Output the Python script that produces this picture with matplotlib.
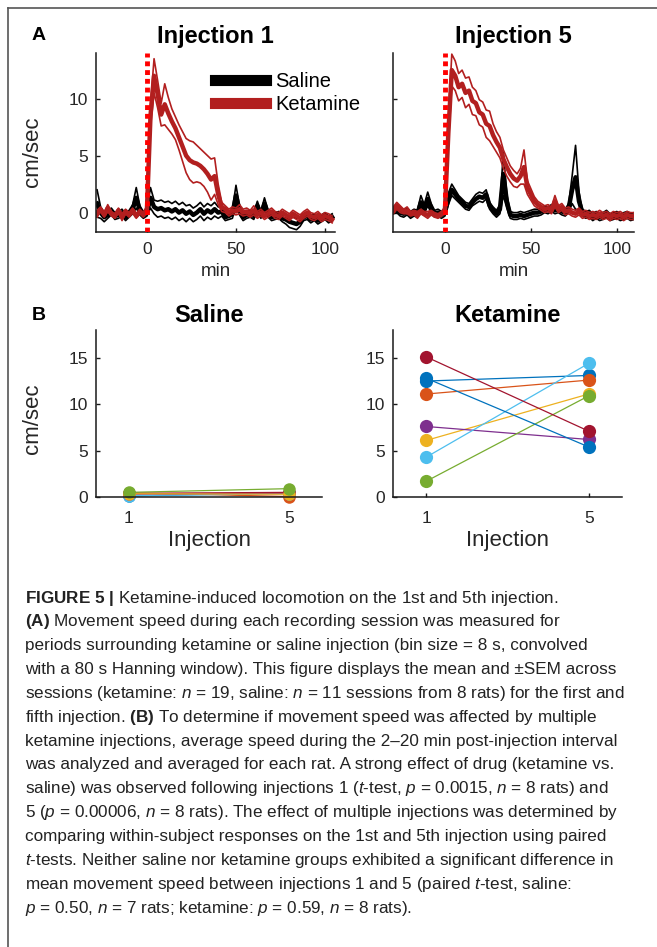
import numpy as np
import matplotlib
matplotlib.use("Agg")
import matplotlib.pyplot as plt
from matplotlib.lines import Line2D

plt.rcParams['font.family'] = ['Liberation Sans', 'DejaVu Sans']
plt.rcParams['mathtext.fontset'] = 'custom'
plt.rcParams['mathtext.rm'] = 'Liberation Sans'
plt.rcParams['mathtext.it'] = 'Liberation Sans:italic'
plt.rcParams['mathtext.bf'] = 'Liberation Sans:bold'

# ---- panel A: speed traces (mean and SEM), 2 min steps ----
t1 = np.arange(-28, 106, 2)   # injection 1
t5 = np.arange(-30, 112, 2)   # injection 5

sal1_mean = [0.8, 0.0, -0.4, -0.2, 0.1, -0.3, -0.2, 0.0, -0.4, -0.1, 0.3, 1.3, 0.2, -0.2,
             0.0, 1.3, 0.5, 0.3, 0.4, 0.2, 0.3, 0.1, 0.3, 0.0, 0.2, -0.1, 0.1, -0.2, 0.0,
             0.3, -0.1, 0.2, 0.0, 0.3, 0.0, 0.1, -0.4, -0.3, -0.1, 1.5, 0.2, -0.4, -0.2,
             -0.1, -0.3, 0.6, -0.2, 0.8, -0.1, -0.4, -0.3, -0.2, -0.5, -0.6, -0.8, -0.9,
             -1.0, -0.8, -0.4, -0.3, -0.6, -0.4, -0.7, -0.5, -0.3, -0.6, -0.4]
sal1_sem = [1.2, 0.5, 0.4, 0.3, 0.3, 0.3, 0.3, 0.3, 0.3, 0.3, 0.4, 0.9, 0.4, 0.3,
            0.3, 0.9, 0.6, 0.7, 0.7, 0.7, 0.7, 0.7, 0.7, 0.7, 0.7, 0.7, 0.6, 0.6, 0.6,
            0.6, 0.6, 0.6, 0.6, 0.6, 0.5, 0.4, 0.3, 0.3, 0.4, 0.9, 0.4, 0.3, 0.3,
            0.3, 0.3, 0.4, 0.3, 0.5, 0.3, 0.3, 0.3, 0.3, 0.3, 0.4, 0.5, 0.5,
            0.5, 0.4, 0.3, 0.3, 0.3, 0.3, 0.3, 0.3, 0.3, 0.3, 0.3]
ket1_mean = [-0.1, 0.3, -0.2, 0.4, -0.1, -0.3, 0.2, -0.4, 0.1, -0.2, 0.2, -0.3, 0.1, -0.2,
             0.3, 8.5, 12.0, 10.4, 8.6, 9.5, 8.7, 8.0, 7.4, 6.6, 5.8, 5.0, 4.6, 4.4, 4.3,
             4.1, 3.8, 3.4, 2.9, 3.2, 1.6, 0.5, 0.3, 0.0, 0.2, 0.1, 0.3, 0.0, 0.1,
             -0.1, 0.2, -0.2, 0.0, -0.3, -0.1, 0.1, -0.2, -0.3, 0.0, -0.2, -0.4, -0.1,
             -0.3, -0.5, -0.2, 0.0, -0.3, -0.4, -0.2, -0.5, -0.3, -0.4, -0.6]
ket1_sem = [0.3, 0.2, 0.2, 0.3, 0.2, 0.2, 0.2, 0.3, 0.2, 0.2, 0.2, 0.2, 0.2, 0.2,
            0.3, 1.0, 1.5, 1.2, 1.0, 1.8, 1.4, 1.1, 1.0, 1.1, 1.3, 1.5, 1.7, 1.8, 1.6,
            1.5, 1.5, 1.6, 1.8, 1.6, 0.9, 0.4, 0.3, 0.3, 0.3, 0.3, 0.4, 0.3, 0.3,
            0.3, 0.4, 0.3, 0.3, 0.3, 0.3, 0.3, 0.3, 0.3, 0.3, 0.3, 0.3, 0.3,
            0.3, 0.3, 0.3, 0.3, 0.3, 0.3, 0.3, 0.3, 0.3, 0.3, 0.3]

sal5_mean = [0.2, 0.3, 0.0, -0.1, 0.1, -0.2, 0.0, -0.1, 0.9, 0.3, 1.2, 0.4, -0.1, 0.0, -0.2,
             0.0, 1.2, 2.0, 1.6, 1.2, 0.9, 0.6, 0.5, 0.9, 1.2, 1.4, 1.3, 1.6, 0.6, 0.2,
             -0.1, 0.3, 3.4, 1.0, -0.2, -0.3, -0.3, -0.2, -0.3, -0.2, -0.1, 0.0, 0.0,
             0.1, 0.3, 0.2, 0.4, 0.2, 0.3, 0.1, 0.0, 0.4, 2.0, 3.1, 1.0, 0.0, -0.2,
             -0.1, -0.4, -0.2, -0.4, -0.3, -0.1, -0.4, -0.3, -0.2, -0.4, -0.3, -0.2, -0.4, -0.3]
sal5_sem = [0.3, 0.3, 0.3, 0.3, 0.3, 0.3, 0.3, 0.3, 0.6, 0.4, 0.6, 0.4, 0.3, 0.3, 0.3,
            0.3, 0.5, 0.5, 0.4, 0.3, 0.3, 0.3, 0.3, 0.3, 0.4, 0.4, 0.4, 0.4, 0.3, 0.3,
            0.3, 0.4, 1.9, 0.6, 0.3, 0.3, 0.3, 0.3, 0.3, 0.3, 0.3, 0.3, 0.3,
            0.3, 0.3, 0.3, 0.3, 0.3, 0.3, 0.3, 0.3, 0.4, 1.2, 2.8, 0.8, 0.3, 0.3,
            0.3, 0.3, 0.3, 0.3, 0.3, 0.3, 0.3, 0.3, 0.3, 0.3, 0.3, 0.3, 0.3, 0.3]
ket5_mean = [0.2, 0.6, 0.3, 0.1, 0.2, -0.1, 0.0, -0.2, 0.1, -0.1, -0.2, 0.0, -0.2, -0.3, -0.1,
             0.2, 7.0, 12.5, 12.0, 11.0, 11.3, 10.5, 10.7, 9.8, 9.6, 8.8, 8.6, 7.8, 7.6, 6.8,
             6.2, 5.7, 4.7, 4.0, 3.4, 3.0, 2.8, 3.2, 4.0, 2.2, 1.6, 1.0, 0.7,
             0.5, 0.3, 0.4, 0.2, 1.0, 0.3, 0.5, 0.1, 0.2, 0.0, -0.1, 0.1, -0.2,
             -0.1, -0.3, -0.2, -0.3, -0.1, -0.3, -0.2, -0.4, -0.2, -0.3, -0.2, -0.4, -0.2, -0.3, -0.3]
ket5_sem = [0.3, 0.3, 0.3, 0.2, 0.3, 0.2, 0.2, 0.3, 0.2, 0.2, 0.3, 0.2, 0.2, 0.2, 0.2,
            0.3, 1.0, 1.4, 1.3, 1.2, 1.2, 1.3, 1.2, 1.2, 1.1, 1.1, 1.1, 1.2, 1.3, 1.0,
            0.9, 0.9, 0.8, 0.8, 0.7, 0.7, 0.6, 0.7, 1.5, 0.6, 0.5, 0.4, 0.3,
            0.3, 0.3, 0.3, 0.3, 0.5, 0.3, 0.3, 0.3, 0.3, 0.3, 0.3, 0.3, 0.3,
            0.3, 0.3, 0.3, 0.3, 0.3, 0.3, 0.3, 0.3, 0.3, 0.3, 0.3, 0.3, 0.3, 0.3, 0.3]

# ---- panel B: mean speed per rat, injections 1 and 5 ----
inj = [1, 5]
rat_colors = ['#0072BD', '#D95319', '#EDB120', '#7E2F8E', '#77AC30', '#4DBEEE', '#A2142F', '#0072BD']
sal_inj1 = [0.1, 0.45, 0.15, 0.3, 0.4, 0.35, 0.5]
sal_inj5 = [0.45, 0.05, 0.35, 0.4, 0.5, 0.3, 0.9]
sal_colors = ['#0072BD', '#D95319', '#4DBEEE', '#7E2F8E', '#A2142F', '#EDB120', '#77AC30']
ket_inj1 = [12.5, 11.1, 6.1, 7.6, 1.7, 4.3, 15.1, 12.8]
ket_inj5 = [13.1, 12.6, 11.1, 6.2, 10.9, 14.4, 7.1, 5.4]

W, H = 657, 947
fig = plt.figure(figsize=(W / 100, H / 100), dpi=100)


def px_axes(l, t, r, b):
    return fig.add_axes([l / W, 1 - b / H, (r - l) / W, (b - t) / H])


def style(ax):
    for s in ['top', 'right']:
        ax.spines[s].set_visible(False)
    for s in ['left', 'bottom']:
        ax.spines[s].set_linewidth(1.1)
        ax.spines[s].set_color('#1a1a1a')
    ax.tick_params(direction='in', length=3, width=1, colors='#1a1a1a',
                   labelsize=12.5, labelcolor='#262626')


red = '#b21f1f'
axA1 = px_axes(96, 53, 335, 232)
axA5 = px_axes(393, 53, 634, 232)
panels = [(axA1, t1, sal1_mean, sal1_sem, ket1_mean, ket1_sem, 'Injection 1', (-28.6, 105.6)),
          (axA5, t5, sal5_mean, sal5_sem, ket5_mean, ket5_sem, 'Injection 5', (-30.2, 110))]
for ax, t, sm, ss, km, ks, title, xl in panels:
    sm, ss, km, ks = map(np.array, (sm, ss, km, ks))
    for m, s, c in [(sm, ss, 'black'), (km, ks, red)]:
        ax.plot(t, m + s, color=c, lw=1.2)
        ax.plot(t, m - s, color=c, lw=1.2)
        ax.plot(t, m, color=c, lw=3.2)
    ax.axvline(0, color='#ff0000', lw=3.5, linestyle=(0, (1, 0.8)), zorder=5)
    ax.set_xlim(*xl)
    ax.set_ylim(-1.7, 14)
    ax.set_xticks([0, 50, 100])
    ax.set_yticks([0, 5, 10])
    style(ax)
    ax.tick_params(axis='x', pad=7)
    ax.tick_params(axis='y', pad=6)
    ax.set_xlabel('min', fontsize=13.5, color='#262626')
    ax.xaxis.set_label_coords(0.5, -0.175)
    ax.set_title(title, fontsize=17, fontweight='bold', pad=7)

axA5.set_yticklabels([])
axA1.set_ylabel('cm/sec', fontsize=16, color='#262626')
axA1.yaxis.set_label_coords(-0.222, 0.45)

handles = [Line2D([], [], color='black', lw=8), Line2D([], [], color=red, lw=8)]
leg = axA1.legend(handles, ['Saline', 'Ketamine'], loc='upper left',
                  bbox_to_anchor=(0.5, 0.895), frameon=False, fontsize=14.5,
                  handlelength=2.5, handletextpad=0.45, labelspacing=0.2,
                  borderpad=0, borderaxespad=0)

axB1 = px_axes(96, 330, 322, 497)
axB5 = px_axes(393, 330, 622, 497)
for ax, a, b, cols, title, ms in [(axB1, sal_inj1, sal_inj5, sal_colors, 'Saline', 9),
                                  (axB5, ket_inj1, ket_inj5, rat_colors, 'Ketamine', 9.5)]:
    for v1, v5, c in zip(a, b, cols):
        ax.plot(inj, [v1, v5], color=c, lw=0.9, marker='o', ms=ms,
                markeredgewidth=0, clip_on=False)
    ax.set_xlim(0.18, 5.82)
    ax.set_ylim(0, 18)
    ax.set_xticks(inj)
    ax.set_yticks([0, 5, 10, 15])
    style(ax)
    ax.tick_params(axis='x', pad=10)
    ax.tick_params(axis='y', pad=6)
    ax.set_xlabel('Injection', fontsize=16, color='#262626')
    ax.xaxis.set_label_coords(0.5, -0.2)
    ax.set_title(title, fontsize=17, fontweight='bold', pad=6)

axB1.set_ylabel('cm/sec', fontsize=16, color='#262626')
axB1.yaxis.set_label_coords(-0.235, 0.47)

fig.text(32 / W, 1 - 35 / H, 'A', fontsize=14, fontweight='bold', va='center')
fig.text(32 / W, 1 - 315 / H, 'B', fontsize=14, fontweight='bold', va='center')

# frame
fig.add_artist(Line2D([8 / W, 1], [1 - 8 / H, 1 - 8 / H], transform=fig.transFigure,
                      color='#555555', lw=1.2))
fig.add_artist(Line2D([8 / W, 8 / W], [0, 1 - 8 / H], transform=fig.transFigure,
                      color='#555555', lw=1.2))

caption = [
    r'$\bf{FIGURE\ 5\ |}$ Ketamine-induced locomotion on the 1st and 5th injection.',
    r'$\bf{(A)}$ Movement speed during each recording session was measured for',
    'periods surrounding ketamine or saline injection (bin size = 8 s, convolved',
    'with a 80 s Hanning window). This figure displays the mean and ±SEM across',
    r'sessions (ketamine: $\it{n}$ = 19, saline: $\it{n}$ = 11 sessions from 8 rats) for the first and',
    r'fifth injection. $\bf{(B)}$ To determine if movement speed was affected by multiple',
    'ketamine injections, average speed during the 2–20 min post-injection interval',
    'was analyzed and averaged for each rat. A strong effect of drug (ketamine vs.',
    r'saline) was observed following injections 1 ($\it{t}$-test, $\it{p}$ = 0.0015, $\it{n}$ = 8 rats) and',
    r'5 ($\it{p}$ = 0.00006, $\it{n}$ = 8 rats). The effect of multiple injections was determined by',
    'comparing within-subject responses on the 1st and 5th injection using paired',
    r'$\it{t}$-tests. Neither saline nor ketamine groups exhibited a significant difference in',
    r'mean movement speed between injections 1 and 5 (paired $\it{t}$-test, saline:',
    r'$\it{p}$ = 0.50, $\it{n}$ = 7 rats; ketamine: $\it{p}$ = 0.59, $\it{n}$ = 8 rats).',
]
for i, line in enumerate(caption):
    fig.text(25 / W, 1 - (598 + i * 23.85) / H, line, fontsize=12.3,
             color='#222222', va='center', ha='left')

fig.savefig('out.png', dpi=100)
